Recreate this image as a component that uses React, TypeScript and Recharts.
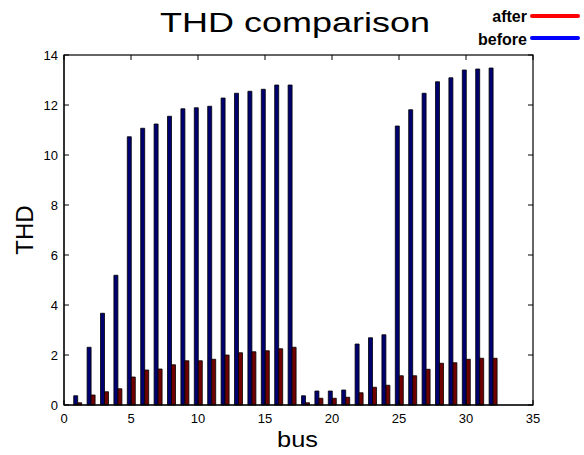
import { Bar, BarChart, XAxis, YAxis } from "recharts"

const buses = Array.from({ length: 32 }, (_, i) => i + 1)

const before = [
  0.37, 2.31, 3.67, 5.19, 10.73, 11.07, 11.24, 11.55, 11.85, 11.89, 11.95,
  12.28, 12.47, 12.55, 12.63, 12.8, 12.8, 0.37, 0.56, 0.56, 0.6, 2.44, 2.69,
  2.81, 11.16, 11.81, 12.47, 12.93, 13.09, 13.4, 13.44, 13.48,
]

const after = [
  0.09, 0.4, 0.53, 0.65, 1.12, 1.4, 1.44, 1.61, 1.77, 1.77, 1.83, 2.0, 2.09,
  2.13, 2.17, 2.25, 2.31, 0.09, 0.27, 0.27, 0.31, 0.49, 0.71, 0.79, 1.17, 1.17,
  1.43, 1.67, 1.69, 1.83, 1.87, 1.87,
]

const xTicks = [0, 5, 10, 15, 20, 25, 30, 35]
const yTicks = [0, 2, 4, 6, 8, 10, 12, 14]

const data = buses.map((bus, i) => ({ bus, before: before[i], after: after[i] }))

const W = 584
const H = 455
const margin = { top: 55, right: 51, bottom: 20, left: 0 }
const yAxisW = 64
const xAxisH = 30

// plot box, same numbers recharts uses for its offset
const boxL = margin.left + yAxisW
const boxR = W - margin.right
const boxT = margin.top
const boxB = H - margin.bottom - xAxisH

const font = "'Liberation Sans', Arial, sans-serif"
const tickStyle = { fontSize: 13, fill: "#000", fontFamily: font }

export default function App() {
  const xMax = xTicks[xTicks.length - 1]
  const yMax = yTicks[yTicks.length - 1]
  // top / right inward ticks as one path
  let d = ""
  xTicks.forEach((t) => {
    const x = boxL + (t / xMax) * (boxR - boxL)
    d += `M${x},${boxT}V${boxT + 5}`
  })
  yTicks.forEach((t) => {
    const y = boxB - (t / yMax) * (boxB - boxT)
    d += `M${boxR},${y}H${boxR - 5}`
  })
  return (
    <div style={{ position: "absolute", left: 0, top: 0, width: W, height: H, background: "#fff" }}>
      <BarChart width={W} height={H} data={data} margin={margin} barGap={0} barSize={4}>
        <XAxis
          type="number"
          dataKey="bus"
          domain={[0, xMax]}
          ticks={xTicks}
          height={xAxisH}
          tickSize={-5}
          tickMargin={14}
          stroke="#000"
          tick={tickStyle}
        />
        <YAxis
          domain={[0, yMax]}
          ticks={yTicks}
          width={yAxisW}
          tickSize={-5}
          tickMargin={11}
          stroke="#000"
          tick={tickStyle}
        />
        <Bar dataKey="before" fill="#000070" stroke="#000" strokeWidth={0.8} isAnimationActive={false} />
        <Bar dataKey="after" fill="#700000" stroke="#000" strokeWidth={0.8} isAnimationActive={false} />
      </BarChart>
      <svg width={W} height={H} style={{ position: "absolute", left: 0, top: 0, pointerEvents: "none" }}>
        <rect
          x={boxL}
          y={boxT}
          width={boxR - boxL}
          height={boxB - boxT}
          fill="none"
          stroke="#000000"
          strokeWidth={1.2}
        />
        <path d={d} fill="none" stroke="#000000" strokeWidth={1} />

        <text x={160} y={32} fontSize={28} fontFamily={font} textLength={270} lengthAdjust="spacingAndGlyphs">
          THD comparison
        </text>
        <text x={527} y={22} fontSize={16} fontWeight="bold" fontFamily={font} textAnchor="end">
          after
        </text>
        <text x={527} y={45} fontSize={16} fontWeight="bold" fontFamily={font} textAnchor="end">
          before
        </text>
        <line x1={532} y1={16} x2={578} y2={16} stroke="#ff0000" strokeWidth={4} strokeLinecap="round" />
        <line x1={532} y1={38} x2={578} y2={38} stroke="#0000ff" strokeWidth={4} strokeLinecap="round" />
        <text x={33} y={230} fontSize={24} fontFamily={font} textAnchor="middle" transform="rotate(-90 33 230)">
          THD
        </text>
        <text x={277} y={447} fontSize={22} fontFamily={font} textLength={41} lengthAdjust="spacingAndGlyphs">
          bus
        </text>
      </svg>
    </div>
  )
}
